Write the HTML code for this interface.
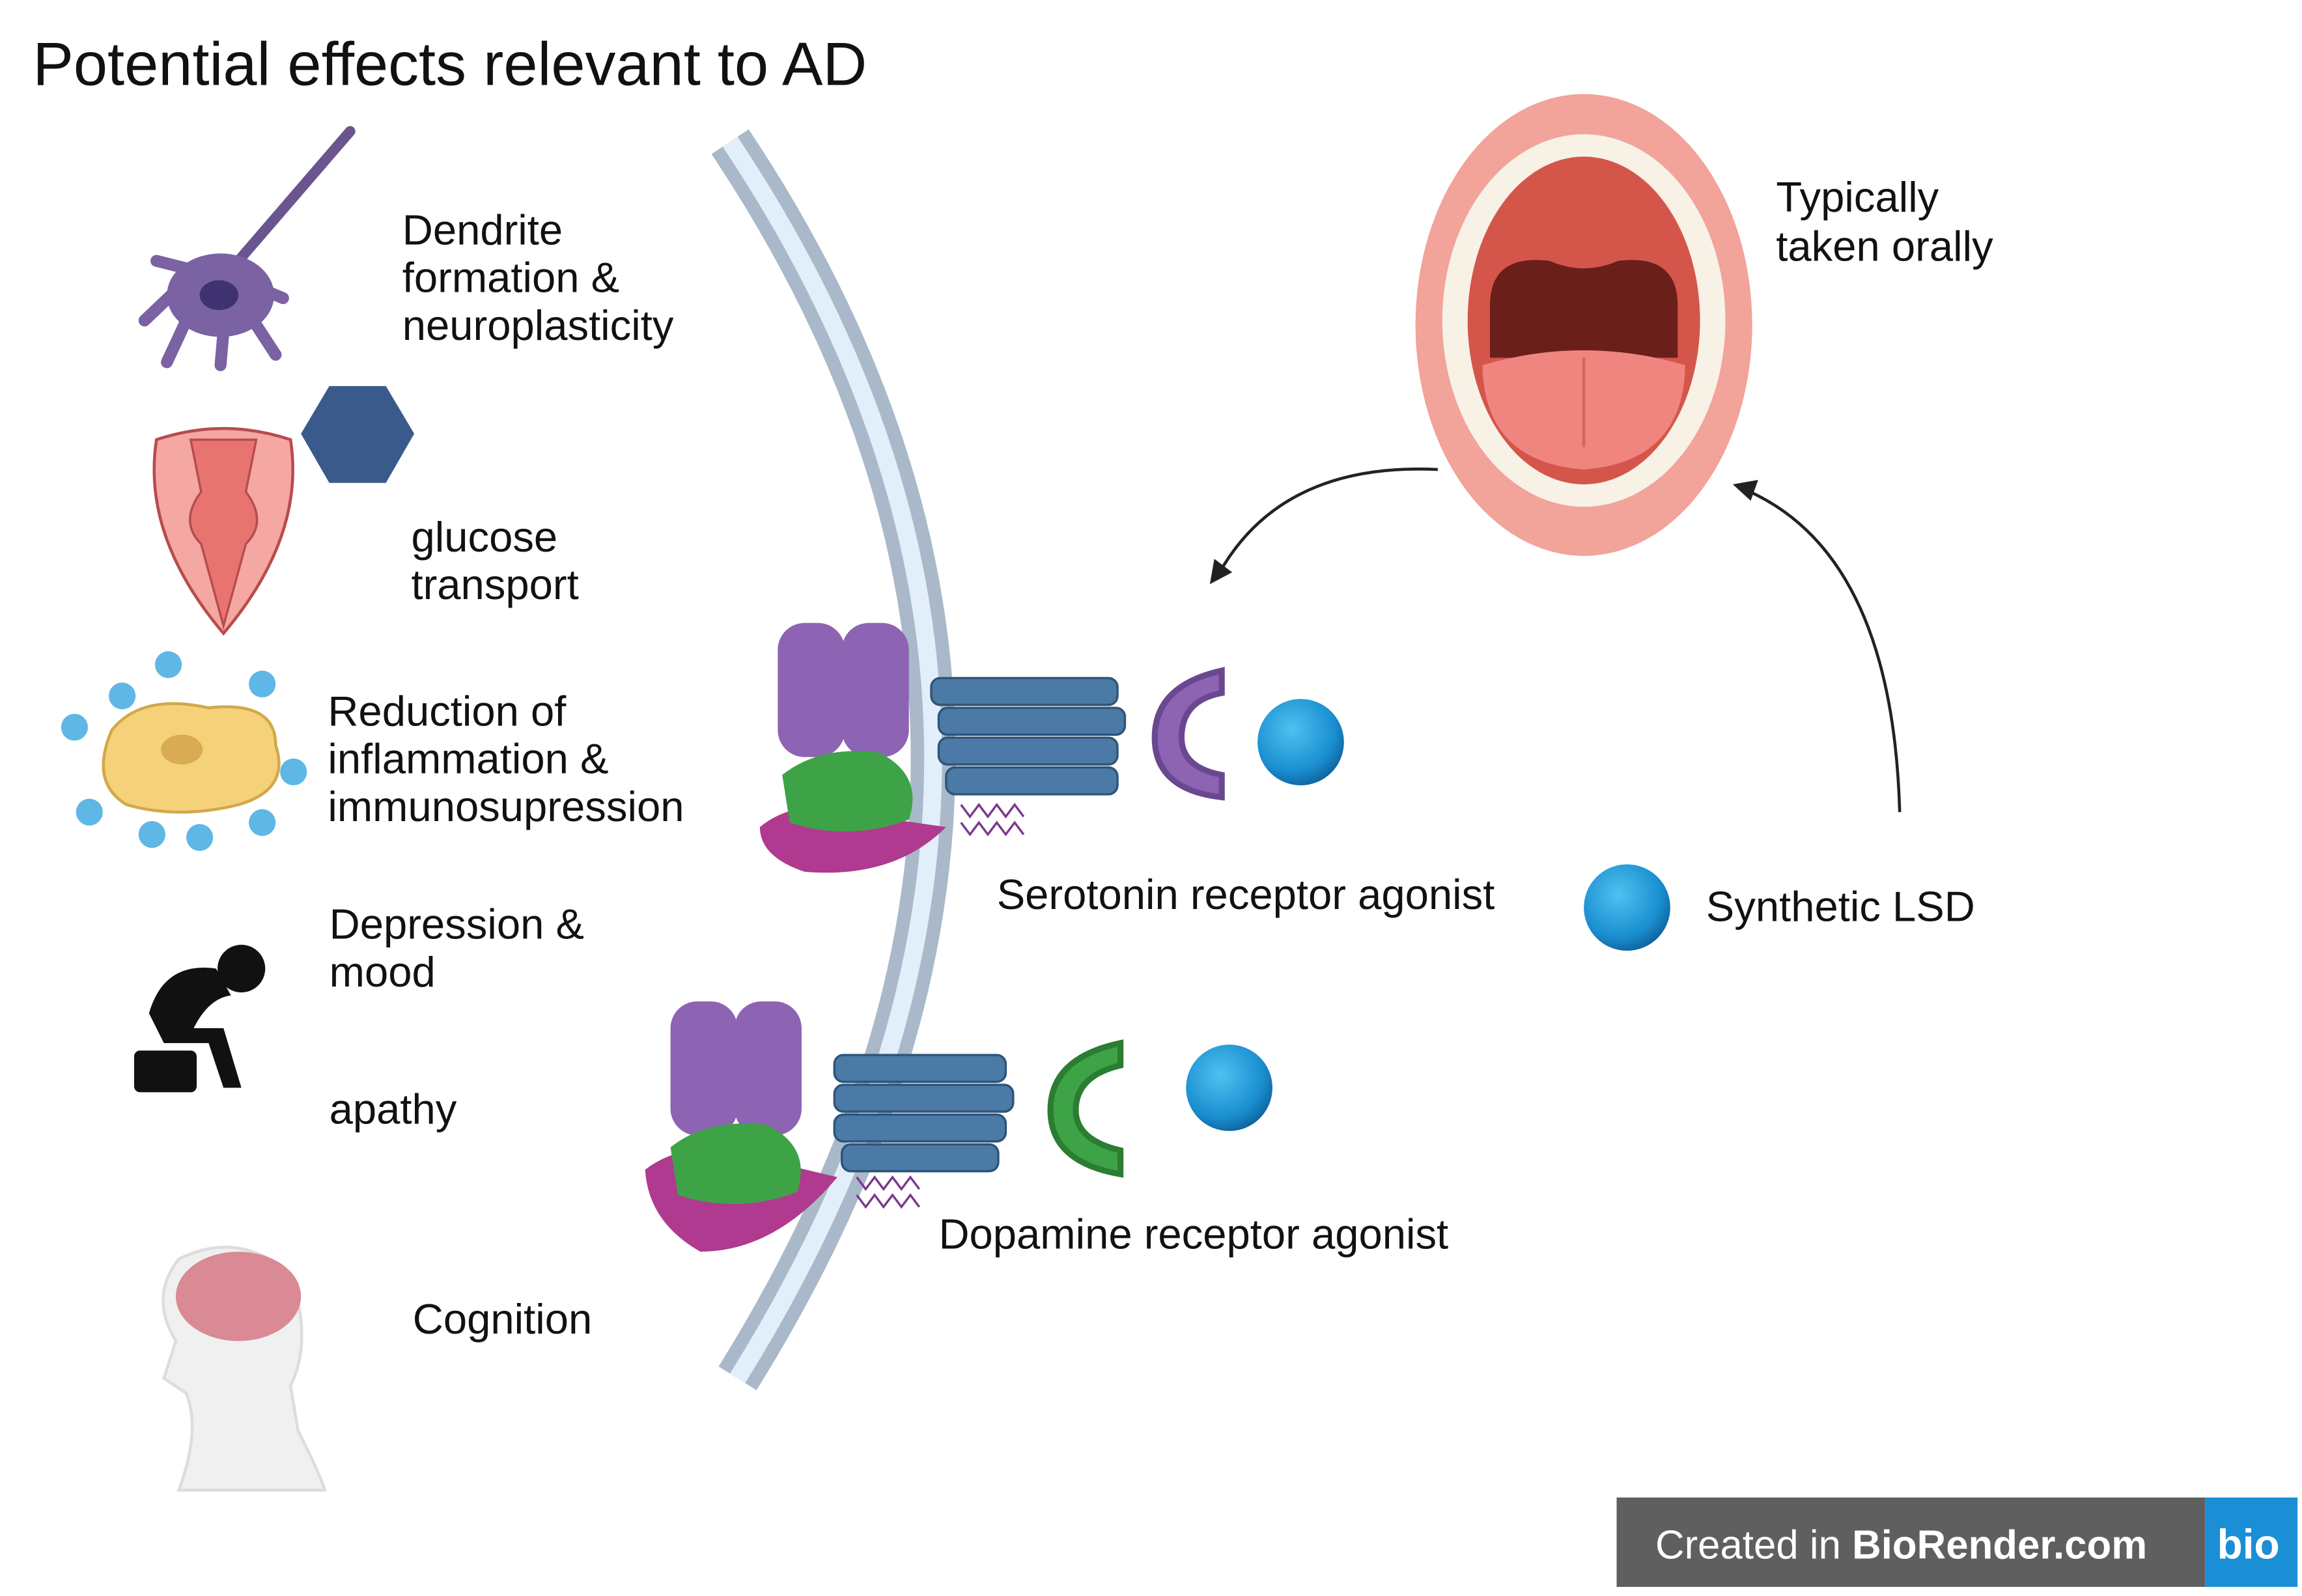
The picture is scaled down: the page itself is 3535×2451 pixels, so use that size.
<!DOCTYPE html>
<html><head><meta charset="utf-8"><style>
html,body{margin:0;padding:0;background:#fff}
svg{display:block}
text{font-family:"Liberation Sans",sans-serif;fill:#111}
</style></head><body>
<svg width="3535" height="2451" viewBox="0 0 1545 1071" xmlns="http://www.w3.org/2000/svg">
<rect width="1545" height="1071" fill="#fff"/>
<text x="22" y="57" font-size="41">Potential effects relevant to AD</text>

<path d="M490,95 Q760,500 495,925" fill="none" stroke="#a9b9c9" stroke-width="30"/>
<path d="M490,95 Q760,500 495,925" fill="none" stroke="#e2eefa" stroke-width="12"/>

<path d="M235,88 L160,175" stroke="#6a558f" stroke-width="7" fill="none" stroke-linecap="round"/>
<ellipse cx="148" cy="198" rx="36" ry="28" fill="#7a62a3"/>
<path d="M118,195 L97,215 M125,215 L112,243 M150,222 L148,245 M170,215 L185,238 M178,195 L190,200 M125,180 L105,175" stroke="#7a62a3" stroke-width="8" stroke-linecap="round"/>
<ellipse cx="147" cy="198" rx="13" ry="10" fill="#3f3270"/>

<polygon points="221,259 259,259 278,291 259,324 221,324 202,291" fill="#3a5a8c"/>
<path d="M105,295 Q150,280 195,295 Q205,360 150,425 Q95,360 105,295Z" fill="#f4a7a3" stroke="#b84c4c" stroke-width="2"/>
<path d="M128,295 L172,295 L165,330 Q180,350 165,365 L150,420 L135,365 Q120,350 135,330Z" fill="#e87470" stroke="#b84c4c" stroke-width="1.5"/>

<path d="M75,490 Q95,465 140,475 Q185,470 185,500 Q195,530 160,540 Q120,550 85,540 Q60,525 75,490Z" fill="#f5d27a" stroke="#d2a84a" stroke-width="2"/>
<ellipse cx="122" cy="503" rx="14" ry="10" fill="#d9ab52"/>
<g fill="#5fb7e5">
<circle cx="113" cy="446" r="9"/><circle cx="82" cy="467" r="9"/><circle cx="176" cy="459" r="9"/><circle cx="50" cy="488" r="9"/><circle cx="197" cy="518" r="9"/><circle cx="60" cy="545" r="9"/><circle cx="102" cy="560" r="9"/><circle cx="134" cy="562" r="9"/><circle cx="176" cy="552" r="9"/>
</g>

<circle cx="162" cy="650" r="16" fill="#111"/>
<path d="M145,650 Q110,645 100,680 L110,700 L140,700 L150,730 L162,730 L150,690 L130,690 Q140,670 155,668Z" fill="#111"/>
<rect x="90" y="705" width="42" height="28" rx="4" fill="#111"/>

<path d="M120,1000 Q135,960 125,935 L110,925 L118,900 Q100,870 120,845 Q160,825 195,855 Q210,900 195,930 L200,960 Q215,990 218,1000Z" fill="#f0f0f0" stroke="#ddd" stroke-width="2"/>
<ellipse cx="160" cy="870" rx="42" ry="30" fill="#d98a94"/>

<g font-size="28.5">
<text x="270" y="164">Dendrite</text><text x="270" y="196">formation &amp;</text><text x="270" y="228">neuroplasticity</text>
<text x="276" y="370">glucose</text><text x="276" y="402">transport</text>
<text x="220" y="487">Reduction of</text><text x="220" y="519">inflammation &amp;</text><text x="220" y="551">immunosupression</text>
<text x="221" y="630">Depression &amp;</text><text x="221" y="662">mood</text>
<text x="221" y="754">apathy</text>
<text x="277" y="895">Cognition</text>
<text x="669" y="610">Serotonin receptor agonist</text>
<text x="630" y="838">Dopamine receptor agonist</text>
<text x="1145" y="618">Synthetic LSD</text>
<text x="1192" y="142">Typically</text><text x="1192" y="175">taken orally</text>
</g>

<g>
<rect x="522" y="418" width="45" height="90" rx="18" fill="#8d63b3"/>
<rect x="565" y="418" width="45" height="90" rx="18" fill="#8d63b3"/>
<path d="M510,555 Q540,530 600,550 L635,555 Q600,590 540,585 Q510,575 510,555Z" fill="#b03a8f"/>
<path d="M525,520 Q550,500 590,505 Q620,520 610,550 Q570,565 530,552Z" fill="#3ea346"/>
<g fill="#4a7aa5" stroke="#2e5578" stroke-width="1.5">
<rect x="625" y="455" width="125" height="18" rx="6"/><rect x="630" y="475" width="125" height="18" rx="6"/><rect x="630" y="495" width="120" height="18" rx="6"/><rect x="635" y="515" width="115" height="18" rx="6"/>
</g>
<path d="M820,450 Q775,460 775,495 Q775,530 820,535 L820,520 Q793,515 793,495 Q793,470 820,465Z" fill="#8d63b3" stroke="#6a4890" stroke-width="4"/>
<path d="M645,540 l6,8 6,-8 6,8 6,-8 6,8 6,-8 6,8 M645,552 l6,8 6,-8 6,8 6,-8 6,8 6,-8 6,8" fill="none" stroke="#7a3a8f" stroke-width="1.5"/>
</g>
<g>
<rect x="450" y="672" width="45" height="90" rx="18" fill="#8d63b3"/>
<rect x="493" y="672" width="45" height="90" rx="18" fill="#8d63b3"/>
<path d="M433,785 Q465,760 520,780 L562,790 Q520,840 470,840 Q435,820 433,785Z" fill="#b03a8f"/>
<path d="M450,770 Q475,750 515,755 Q545,770 535,800 Q495,815 455,802Z" fill="#3ea346"/>
<g fill="#4a7aa5" stroke="#2e5578" stroke-width="1.5">
<rect x="560" y="708" width="115" height="18" rx="6"/><rect x="560" y="728" width="120" height="18" rx="6"/><rect x="560" y="748" width="115" height="18" rx="6"/><rect x="565" y="768" width="105" height="18" rx="6"/>
</g>
<path d="M752,700 Q705,710 705,745 Q705,780 752,788 L752,772 Q722,765 722,745 Q722,722 752,715Z" fill="#3ea346" stroke="#2b7d32" stroke-width="4"/>
<path d="M575,790 l6,8 6,-8 6,8 6,-8 6,8 6,-8 6,8 M575,802 l6,8 6,-8 6,8 6,-8 6,8 6,-8 6,8" fill="none" stroke="#7a3a8f" stroke-width="1.5"/>
</g>

<defs><radialGradient id="b" cx="0.4" cy="0.35" r="0.7"><stop offset="0" stop-color="#4fc1f0"/><stop offset="0.7" stop-color="#1a8fd0"/><stop offset="1" stop-color="#0d5f99"/></radialGradient></defs>
<circle cx="873" cy="498" r="29" fill="url(#b)"/>
<circle cx="825" cy="730" r="29" fill="url(#b)"/>
<circle cx="1092" cy="609" r="29" fill="url(#b)"/>

<ellipse cx="1063" cy="218" rx="113" ry="155" fill="#f2a39a"/>
<ellipse cx="1063" cy="215" rx="95" ry="125" fill="#f7f1e6"/>
<ellipse cx="1063" cy="215" rx="78" ry="110" fill="#d4564a"/>
<path d="M1000,205 Q1000,170 1040,175 Q1063,185 1086,175 Q1126,170 1126,205 L1126,240 L1000,240Z" fill="#6a1f1a"/>
<path d="M995,245 Q1063,225 1131,245 Q1130,310 1063,315 Q996,310 995,245Z" fill="#f08580"/>
<path d="M1063,240 L1063,300" stroke="#d66560" stroke-width="2"/>

<path d="M965,315 Q860,310 818,385" fill="none" stroke="#222" stroke-width="2"/>
<polygon points="812,392 815,375 827,384" fill="#222"/>
<path d="M1275,545 Q1270,370 1170,328" fill="none" stroke="#222" stroke-width="2"/>
<polygon points="1163,325 1180,322 1175,336" fill="#222"/>

<rect x="1085" y="1005" width="395" height="60" fill="#5f5f5f"/>
<rect x="1480" y="1005" width="62" height="60" fill="#1a8fd6"/>
<text x="1111" y="1046" font-size="27" style="fill:#fff">Created in <tspan font-weight="bold" style="fill:#fff">BioRender.com</tspan></text>
<text x="1488" y="1046" font-size="28" font-weight="bold" style="fill:#fff">bio</text>
</svg>
</body></html>
